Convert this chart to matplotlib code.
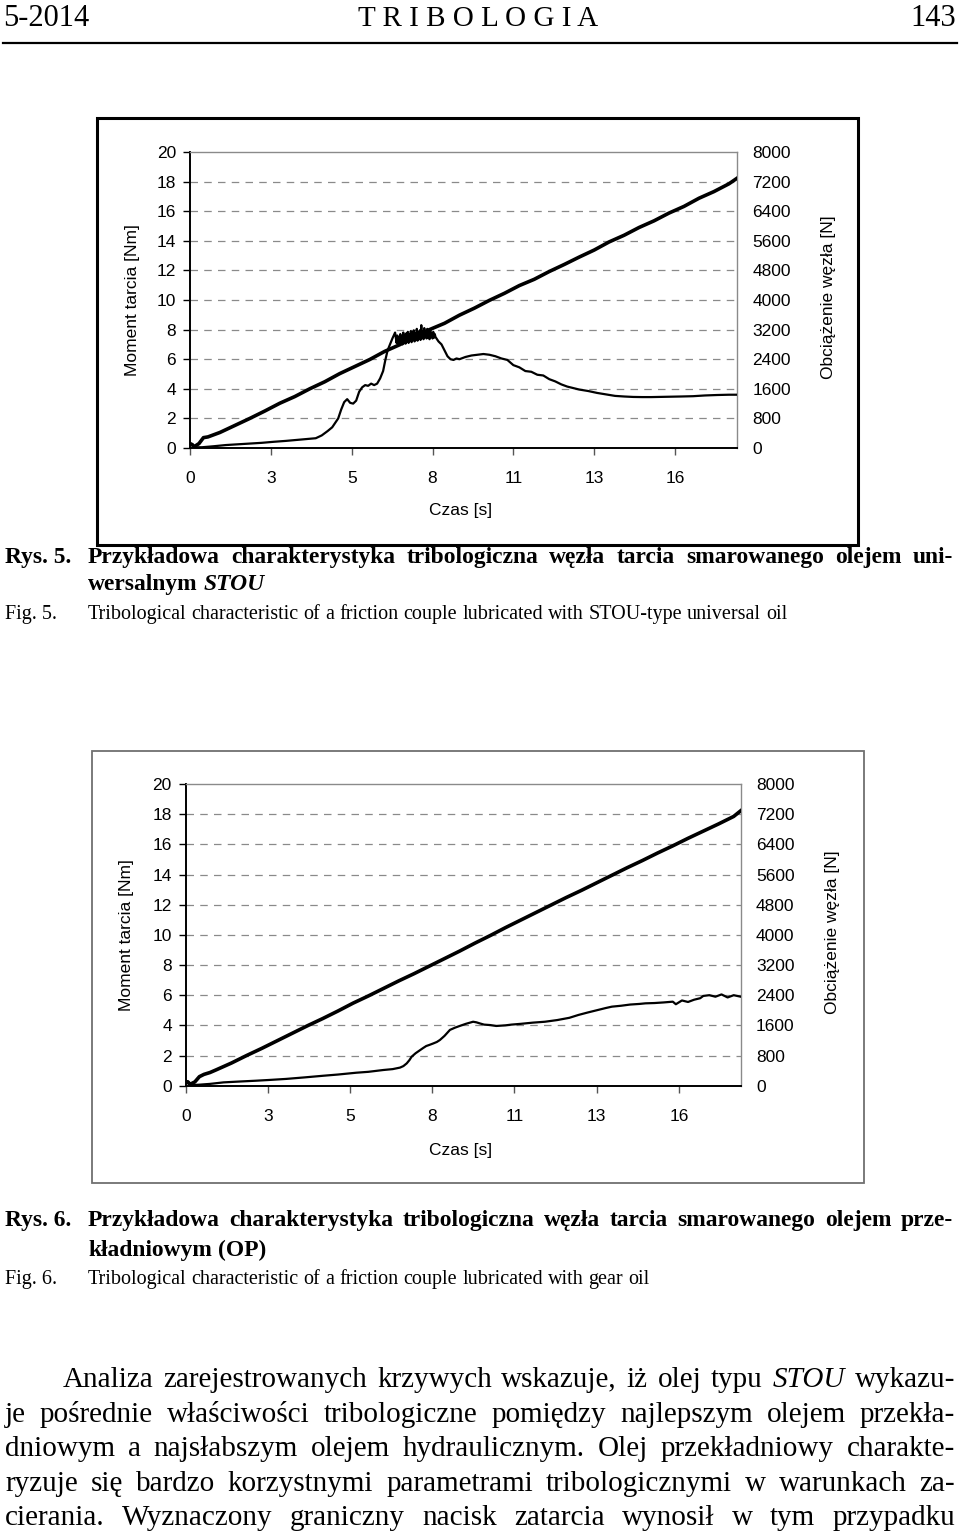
import numpy as np
import matplotlib.pyplot as plt
from matplotlib.patches import Rectangle
from matplotlib.lines import Line2D

plt.rcParams['font.family'] = ['Liberation Sans', 'DejaVu Sans']
SERIF = ['Liberation Serif', 'DejaVu Serif']

# x axis: category-like time axis of the original (labels every 2.7 s)
time_pos = [0, 2.7, 5.4, 8.1, 10.8, 13.5, 16.2]
time_lab = ['0', '3', '5', '8', '11', '13', '16']
nm_ticks = np.arange(0, 21, 2)
n_ticks = np.arange(0, 8001, 800)

# --- Rys. 5 (STOU) ---
t_f1 = [0.00, 0.08, 0.15, 0.22, 0.40, 0.80, 1.20, 1.60, 2.00, 2.40,
        2.80, 3.20, 3.60, 4.00, 4.20, 4.40, 4.60, 4.75, 4.85, 4.95,
        5.05, 5.15, 5.25, 5.35, 5.45, 5.55, 5.65, 5.75, 5.85, 5.95,
        6.05, 6.15, 6.25, 6.35, 6.45, 6.52, 6.60, 6.68, 6.76, 6.85,
        6.900, 6.925, 6.950, 6.975, 7.000, 7.025, 7.050, 7.075, 7.100, 7.125,
        7.150, 7.175, 7.200, 7.225, 7.250, 7.275, 7.300, 7.325, 7.350, 7.375,
        7.400, 7.425, 7.450, 7.475, 7.500, 7.525, 7.550, 7.575, 7.600, 7.625,
        7.650, 7.675, 7.700, 7.725, 7.750, 7.775, 7.800, 7.825, 7.850, 7.875,
        7.900, 7.925, 7.950, 7.975, 8.000, 8.025, 8.050, 8.075, 8.100, 8.125,
        8.150, 8.175, 8.200, 8.30, 8.40, 8.50, 8.60, 8.70, 8.80, 8.90,
        9.00, 9.20, 9.40, 9.60, 9.80, 10.00, 10.2, 10.4, 10.6, 10.8,
        11.0, 11.2, 11.4, 11.6, 11.8, 12.0, 12.2, 12.4, 12.6, 12.8,
        13.0, 13.3, 13.6, 13.9, 14.2, 14.5, 14.8, 15.1, 15.4, 15.7,
        16.0, 16.4, 16.8, 17.2, 17.6, 18.0, 18.27]
f1 = [0.30, 0.28, 0.10, 0.05, 0.05, 0.12, 0.20, 0.25, 0.30, 0.35,
      0.42, 0.48, 0.55, 0.62, 0.66, 0.85, 1.15, 1.40, 1.70, 2.00,
      2.60, 3.10, 3.30, 3.05, 3.00, 3.20, 3.80, 4.10, 4.25, 4.20,
      4.35, 4.25, 4.35, 4.70, 5.20, 5.90, 6.60, 7.00, 7.40, 7.80,
      7.10, 7.60, 7.00, 7.50, 7.05, 7.70, 7.10, 7.55, 7.00, 7.80,
      7.15, 7.60, 7.05, 7.75, 7.20, 7.85, 7.10, 7.70, 7.25, 7.90,
      7.15, 7.80, 7.30, 7.95, 7.20, 7.75, 7.35, 8.05, 7.25, 7.85,
      7.40, 7.95, 7.30, 8.30, 7.45, 7.90, 7.35, 8.10, 7.50, 7.85,
      7.40, 8.05, 7.45, 7.80, 7.35, 7.95, 7.50, 7.75, 7.40, 7.85,
      7.45, 7.70, 7.50, 7.20, 7.00, 6.60, 6.20, 6.00, 5.95, 6.05,
      6.00, 6.15, 6.25, 6.30, 6.35, 6.30, 6.20, 6.05, 5.95, 5.60,
      5.45, 5.20, 5.15, 4.95, 4.90, 4.65, 4.50, 4.30, 4.15, 4.05,
      3.95, 3.85, 3.72, 3.62, 3.52, 3.48, 3.45, 3.44, 3.44, 3.45,
      3.46, 3.48, 3.50, 3.55, 3.58, 3.60, 3.60]
t_l1 = [0.0, 0.15, 0.3, 0.45, 0.6, 0.8, 1.0, 1.5, 2.0, 2.5,
        3.0, 3.5, 4.0, 4.5, 5.0, 5.5, 6.0, 6.5, 7.0, 7.5,
        8.0, 8.5, 9.0, 9.5, 10.0, 10.5, 11.0, 11.5, 12.0, 12.5,
        13.0, 13.5, 14.0, 14.5, 15.0, 15.5, 16.0, 16.5, 17.0, 17.5,
        18.0, 18.27]
l1 = [120, 40, 120, 280, 300, 360, 420, 610, 800, 1000,
      1210, 1390, 1600, 1790, 2010, 2200, 2390, 2610, 2790, 3000,
      3200, 3370, 3590, 3780, 3990, 4180, 4390, 4560, 4770, 4960,
      5160, 5350, 5570, 5750, 5960, 6140, 6350, 6530, 6750, 6930,
      7140, 7290]

# --- Rys. 6 (OP) ---
t_f2 = [0.00, 0.08, 0.15, 0.22, 0.40, 0.80, 1.24, 1.80, 2.30, 2.74,
        3.30, 3.90, 4.52, 5.00, 5.60, 6.00, 6.49, 6.80, 7.04, 7.15,
        7.26, 7.35, 7.42, 7.55, 7.70, 7.80, 7.90, 8.00, 8.13, 8.25,
        8.35, 8.50, 8.68, 8.85, 9.00, 9.20, 9.44, 9.55, 9.66, 9.80,
        10.0, 10.2, 10.5, 10.7, 11.0, 11.4, 11.8, 12.2, 12.6, 12.9,
        13.2, 13.5, 13.8, 14.0, 14.3, 14.6, 14.9, 15.1, 15.4, 15.7,
        16.0, 16.1, 16.3, 16.5, 16.7, 16.9, 17.0, 17.2, 17.4, 17.6,
        17.8, 18.0, 18.23]
f2 = [0.30, 0.30, 0.15, 0.05, 0.06, 0.12, 0.22, 0.28, 0.33, 0.38,
      0.45, 0.55, 0.66, 0.74, 0.86, 0.92, 1.04, 1.10, 1.20, 1.30,
      1.48, 1.70, 1.92, 2.15, 2.36, 2.50, 2.63, 2.70, 2.80, 2.90,
      3.03, 3.30, 3.70, 3.85, 3.96, 4.10, 4.24, 4.20, 4.13, 4.05,
      4.02, 3.96, 4.00, 4.05, 4.10, 4.18, 4.24, 4.35, 4.50, 4.69,
      4.85, 5.00, 5.15, 5.24, 5.30, 5.38, 5.42, 5.46, 5.48, 5.52,
      5.57, 5.40, 5.65, 5.55, 5.70, 5.80, 5.95, 6.00, 5.90, 6.05,
      5.85, 6.00, 5.90]
t_l2 = [0.0, 0.15, 0.3, 0.45, 0.6, 0.8, 1.0, 1.5, 2.0, 2.5,
        3.0, 3.5, 4.0, 4.5, 5.0, 5.5, 6.0, 6.5, 7.0, 7.5,
        8.0, 8.5, 9.0, 9.5, 10.0, 10.5, 11.0, 11.5, 12.0, 12.5,
        13.0, 13.5, 14.0, 14.5, 15.0, 15.5, 16.0, 16.5, 17.0, 17.5,
        18.0, 18.23]
l2 = [120, 40, 100, 240, 300, 350, 420, 600, 800, 990,
      1190, 1390, 1590, 1780, 1980, 2190, 2380, 2580, 2780, 2970,
      3170, 3370, 3570, 3780, 3980, 4190, 4390, 4590, 4790, 4990,
      5180, 5380, 5580, 5780, 5970, 6170, 6360, 6560, 6750, 6940,
      7140, 7290]

W, H = 960, 1538
fig = plt.figure(figsize=(9.6, 15.38), dpi=100)


def fx(x):
    return x / W


def fy(y):
    return 1 - y / H


def chart(left, top, right, bottom, tf, f, tl, l, xmax):
    ax = fig.add_axes([fx(left), fy(bottom), (right - left) / W, (bottom - top) / H])
    for v in nm_ticks[1:-1]:
        ax.axhline(v, color='#8a8a8a', lw=0.9, ls=(0, (6, 5)), zorder=1)
    ax.plot(tf, f, color='black', lw=1.6, zorder=3)
    ax.set_xlim(0, xmax)
    ax.set_ylim(0, 20)
    ax.set_yticks(nm_ticks)
    ax.set_xticks(time_pos, time_lab)
    ax.tick_params(direction='out', length=5, width=1, labelsize=12.5)
    ax.tick_params(axis='x', pad=11.5, color='#555555')
    ax.tick_params(axis='y', pad=5)
    for s in ['left', 'bottom']:
        ax.spines[s].set_linewidth(1.4)
    for s in ['top', 'right']:
        ax.spines[s].set_color('#8a8a8a')
        ax.spines[s].set_linewidth(1.0)
    ax2 = ax.twinx()
    ax2.plot(tl, l, color='black', lw=2.6)
    ax2.set_ylim(0, 8000)
    ax2.set_yticks(n_ticks)
    ax2.tick_params(length=0, pad=11, labelsize=12.5)
    for s in ax2.spines.values():
        s.set_visible(False)
    return ax


chart(190, 152, 737, 448, t_f1, f1, t_l1, l1, 18.27)
chart(185.7, 784, 740.7, 1085.7, t_f2, f2, t_l2, l2, 18.23)

# frames round the two charts
fig.add_artist(Rectangle((fx(97), fy(545)), (858 - 97) / W, (545 - 118) / H,
                         transform=fig.transFigure, fill=False, lw=2.2, ec='black'))
fig.add_artist(Rectangle((fx(92), fy(1183)), (864 - 92) / W, (1183 - 751) / H,
                         transform=fig.transFigure, fill=False, lw=1.3, ec='#707070'))

# axis titles
for xl, yl, xr, yc, yx in [(133, 300, 828, 297, 510), (127, 935, 833, 932, 1150)]:
    fig.text(fx(xl), fy(yl), 'Moment tarcia [Nm]', rotation=90, ha='center', va='center', fontsize=12.5)
    fig.text(fx(xr), fy(yc), 'Obciążenie węzła [N]', rotation=90, ha='center', va='center', fontsize=12.5)
    fig.text(fx(461), fy(yx), 'Czas [s]', ha='center', va='center', fontsize=12.5)

# page header
fig.text(fx(3), fy(26), '5-2014', family=SERIF, fontsize=22, va='baseline')
fig.text(fx(478), fy(26), 'T R I B O L O G I A', family=SERIF, fontsize=21, va='baseline', ha='center')
fig.text(fx(956), fy(26), '143', family=SERIF, fontsize=22, va='baseline', ha='right')
fig.add_artist(Line2D([fx(3), fx(957)], [fy(43), fy(43)], color='black', lw=1.6))

renderer = fig.canvas.get_renderer()


def text_w(s, size, weight='normal', style='normal'):
    t = fig.text(0, 0, s, fontsize=size, family=SERIF, weight=weight, style=style)
    w = t.get_window_extent(renderer=renderer).width
    t.remove()
    return w


def words_of(s, weight='normal'):
    return [(w.strip('*'), weight, 'italic' if w.startswith('*') else 'normal') for w in s.split()]


def natural(words, size):
    sp = text_w('n n', size) - text_w('nn', size)
    return sum(text_w(s, size, wt, st) for s, wt, st in words) + sp * (len(words) - 1)


def set_line(words, x0, x1, y, size, justify=True):
    # y is the baseline in pixels
    ws = [text_w(s, size, wt, st) for s, wt, st in words]
    if justify and len(words) > 1:
        gap = (x1 - x0 - sum(ws)) / (len(words) - 1)
    else:
        gap = text_w('n n', size) - text_w('nn', size)
    x = x0
    for (s, wt, st), w in zip(words, ws):
        fig.text(fx(x), fy(y), s, fontsize=size, family=SERIF, weight=wt, style=st,
                 va='baseline', ha='left')
        x += w + gap


# captions
cap5 = "Przykładowa charakterystyka tribologiczna węzła tarcia smarowanego olejem uni-"
cap5b = "wersalnym *STOU*"
fig5 = "Tribological characteristic of a friction couple lubricated with STOU-type universal oil"
cap6 = "Przykładowa charakterystyka tribologiczna węzła tarcia smarowanego olejem prze-"
cap6b = "kładniowym (OP)"
fig6 = "Tribological characteristic of a friction couple lubricated with gear oil"

bs = 10 * 865 / natural(words_of(cap5, 'bold'), 10) * 0.96
ns = 14.5
for lab, y, wt, sz in [('Rys. 5.', 563, 'bold', bs), ('Fig. 5.', 619, 'normal', ns),
                       ('Rys. 6.', 1226, 'bold', bs), ('Fig. 6.', 1284, 'normal', ns)]:
    fig.text(fx(5), fy(y), lab, fontsize=sz, family=SERIF, weight=wt, va='baseline')
set_line(words_of(cap5, 'bold'), 88, 953, 563, bs)
set_line(words_of(cap5b, 'bold'), 88, 953, 590, bs, justify=False)
set_line(words_of(fig5), 88, 953, 619, ns, justify=False)
set_line(words_of(cap6, 'bold'), 88, 953, 1226, bs)
set_line(words_of(cap6b, 'bold'), 88, 953, 1256, bs, justify=False)
set_line(words_of(fig6), 88, 953, 1284, ns, justify=False)

# paragraph
para = ["Analiza zarejestrowanych krzywych wskazuje, iż olej typu *STOU* wykazu-",
        "je pośrednie właściwości tribologiczne pomiędzy najlepszym olejem przekła-",
        "dniowym a najsłabszym olejem hydraulicznym. Olej przekładniowy charakte-",
        "ryzuje się bardzo korzystnymi parametrami tribologicznymi w warunkach za-",
        "cierania. Wyznaczony graniczny nacisk zatarcia wynosił w tym przypadku"]
para_x0 = [63, 5, 5, 5, 5]
para_y = [1387, 1422, 1456, 1491, 1525]
ps = min(10 * (955 - x0) / natural(words_of(s), 10) for s, x0 in zip(para, para_x0)) * 0.98
for s, x0, y in zip(para, para_x0, para_y):
    set_line(words_of(s), x0, 955, y, ps)

fig.savefig('out.png', dpi=100)
